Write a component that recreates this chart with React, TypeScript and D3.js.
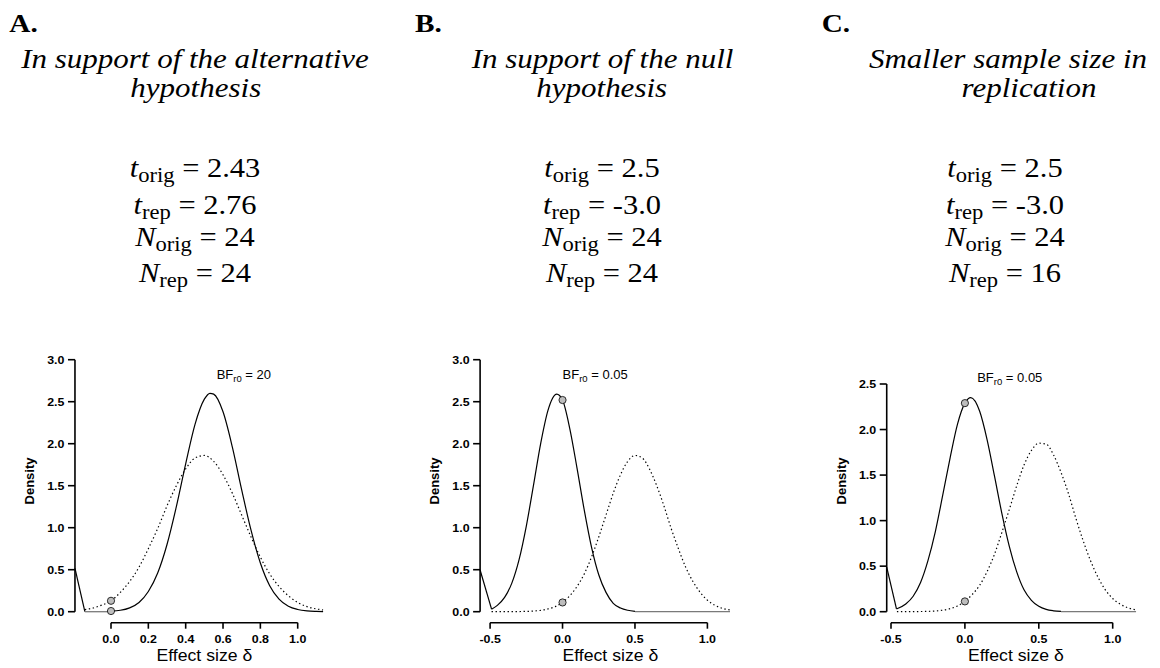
import React from "react";
import * as d3 from "d3";

// ---------- Panel A: in support of the alternative hypothesis ----------
const titleA = ["In support of the alternative", "hypothesis"];
const statValuesA = ["2.43", "2.76", "24", "24"];
const edgeDeltaA = [-0.193, -0.14];
const edgeDensityA = [0.516, 0];
const flatDeltaA = [-0.14, 0];
const repDeltaA = [0, 0.05, 0.1, 0.15, 0.2, 0.25, 0.3, 0.35, 0.4, 0.45, 0.5, 0.53, 0.55, 0.6, 0.65, 0.7, 0.75, 0.8, 0.85, 0.9, 0.95, 1.0, 1.05, 1.1, 1.136];
const repDensityA = [0.008, 0.017, 0.046, 0.11, 0.24, 0.46, 0.8, 1.25, 1.76, 2.23, 2.53, 2.6, 2.59, 2.38, 1.96, 1.45, 0.97, 0.58, 0.31, 0.15, 0.065, 0.026, 0.009, 0.003, 0.001];
const origDeltaA = [-0.14, -0.1, -0.05, 0, 0.05, 0.1, 0.15, 0.2, 0.25, 0.3, 0.35, 0.4, 0.45, 0.5, 0.55, 0.6, 0.65, 0.7, 0.75, 0.8, 0.85, 0.9, 0.95, 1.0, 1.05, 1.1, 1.136];
const origDensityA = [0.025, 0.042, 0.078, 0.13, 0.23, 0.36, 0.53, 0.75, 0.99, 1.26, 1.5, 1.7, 1.83, 1.86, 1.79, 1.63, 1.41, 1.15, 0.89, 0.65, 0.45, 0.3, 0.19, 0.11, 0.06, 0.033, 0.02];
const nullDensityA = [0.13, 0.008]; // original, replication posterior at δ = 0
const bfA = "20";
const xTicksA = [0, 0.2, 0.4, 0.6, 0.8, 1.0];
const yTicksA = [0, 0.5, 1, 1.5, 2, 2.5, 3];

// ---------- Panel B: in support of the null hypothesis ----------
const titleB = ["In support of the null", "hypothesis"];
const statValuesB = ["2.5", "-3.0", "24", "24"];
const edgeDeltaB = [-0.569, -0.49];
const edgeDensityB = [0.496, 0.03];
const flatDeltaB = [0.5, 1.156];
const repDeltaB = [-0.49, -0.45, -0.4, -0.35, -0.3, -0.25, -0.2, -0.15, -0.1, -0.04, 0, 0.05, 0.1, 0.15, 0.2, 0.25, 0.3, 0.35, 0.4, 0.45, 0.5];
const repDensityB = [0.03, 0.075, 0.17, 0.34, 0.62, 1.02, 1.51, 2.01, 2.4, 2.59, 2.52, 2.18, 1.71, 1.21, 0.77, 0.44, 0.23, 0.1, 0.044, 0.017, 0.004];
const origDeltaB = [-0.49, -0.4, -0.3, -0.2, -0.1, -0.05, 0, 0.05, 0.1, 0.15, 0.2, 0.25, 0.3, 0.35, 0.4, 0.45, 0.5, 0.55, 0.6, 0.65, 0.7, 0.75, 0.8, 0.85, 0.9, 0.95, 1.0, 1.05, 1.1, 1.156];
const origDensityB = [0, 0.001, 0.002, 0.008, 0.033, 0.061, 0.11, 0.19, 0.3, 0.45, 0.65, 0.89, 1.15, 1.41, 1.63, 1.79, 1.86, 1.83, 1.7, 1.5, 1.26, 0.99, 0.75, 0.53, 0.36, 0.23, 0.137, 0.078, 0.042, 0.02];
const nullDensityB = [0.11, 2.52];
const bfB = "0.05";
const xTicksB = [-0.5, 0, 0.5, 1.0];
const yTicksB = [0, 0.5, 1, 1.5, 2, 2.5, 3];

// ---------- Panel C: smaller sample size in replication ----------
const titleC = ["Smaller sample size in", "replication"];
const statValuesC = ["2.5", "-3.0", "24", "16"];
const edgeDeltaC = [-0.529, -0.463];
const edgeDensityC = [0.49, 0.03];
const flatDeltaC = [0.65, 1.158];
const repDeltaC = [-0.463, -0.4, -0.35, -0.3, -0.25, -0.2, -0.15, -0.1, -0.05, 0, 0.04, 0.1, 0.15, 0.2, 0.25, 0.3, 0.35, 0.4, 0.45, 0.5, 0.55, 0.6, 0.65];
const repDensityC = [0.03, 0.085, 0.17, 0.32, 0.56, 0.88, 1.28, 1.69, 2.06, 2.29, 2.35, 2.2, 1.89, 1.49, 1.08, 0.72, 0.44, 0.24, 0.125, 0.059, 0.025, 0.01, 0.003];
const origDeltaC = [-0.46, -0.4, -0.3, -0.2, -0.1, -0.05, 0, 0.05, 0.1, 0.15, 0.2, 0.25, 0.3, 0.35, 0.4, 0.45, 0.5, 0.55, 0.6, 0.65, 0.7, 0.75, 0.8, 0.85, 0.9, 0.95, 1.0, 1.05, 1.1, 1.158];
const origDensityC = [0, 0.001, 0.002, 0.008, 0.034, 0.063, 0.113, 0.19, 0.29, 0.44, 0.63, 0.87, 1.12, 1.38, 1.61, 1.77, 1.85, 1.84, 1.72, 1.53, 1.3, 1.03, 0.78, 0.56, 0.38, 0.24, 0.145, 0.083, 0.045, 0.02];
const nullDensityC = [0.113, 2.29];
const bfC = "0.05";
const xTicksC = [-0.5, 0, 0.5, 1.0];
const yTicksC = [0, 0.5, 1, 1.5, 2, 2.5];

const statSymbols = [
  ["t", "orig"],
  ["t", "rep"],
  ["N", "orig"],
  ["N", "rep"],
];

type Pt = [number, number];
const zip = (xs: number[], ys: number[]): Pt[] => xs.map((v, i) => [v, ys[i]] as Pt);

const SERIF = "'Liberation Serif', 'Times New Roman', Times, serif";
const SANS = "'Liberation Sans', Arial, Helvetica, sans-serif";

const fmt = d3.formatLocale({
  decimal: ".",
  thousands: ",",
  grouping: [3],
  currency: ["", ""],
  minus: "-",
}).format(".1f");

const panels = [
  {
    letter: "A.", letterX: 9.3,
    title: titleA, titleX: [195, 195.8],
    stats: statValuesA, statsX: 195,
    xDomain: [0, 1], xRange: [111, 297.7],
    yDomain: [0, 3], yRange: [611.7, 359.7],
    xTicks: xTicksA, yTicks: yTicksA,
    edge: zip(edgeDeltaA, edgeDensityA),
    flat: flatDeltaA,
    rep: zip(repDeltaA, repDensityA),
    orig: zip(origDeltaA, origDensityA),
    nullDensity: nullDensityA,
    bf: bfA, bfAt: [0.566, 2.77],
    xLabelAt: 0.5,
  },
  {
    letter: "B.", letterX: 415,
    title: titleB, titleX: [602.5, 601.7],
    stats: statValuesB, statsX: 602,
    xDomain: [-0.5, 1], xRange: [490.1, 707.4],
    yDomain: [0, 3], yRange: [611.7, 359.7],
    xTicks: xTicksB, yTicks: yTicksB,
    edge: zip(edgeDeltaB, edgeDensityB),
    flat: flatDeltaB,
    rep: zip(repDeltaB, repDensityB),
    orig: zip(origDeltaB, origDensityB),
    nullDensity: nullDensityB,
    bf: bfB, bfAt: [0.0, 2.77],
    xLabelAt: 0.33,
  },
  {
    letter: "C.", letterX: 821.7,
    title: titleC, titleX: [1008, 1029],
    stats: statValuesC, statsX: 1005,
    xDomain: [-0.5, 1], xRange: [891, 1112.7],
    yDomain: [0, 2.5], yRange: [611.7, 384],
    xTicks: xTicksC, yTicks: yTicksC,
    edge: zip(edgeDeltaC, edgeDensityC),
    flat: flatDeltaC,
    rep: zip(repDeltaC, repDensityC),
    orig: zip(origDeltaC, origDensityC),
    nullDensity: nullDensityC,
    bf: bfC, bfAt: [0.083, 2.525],
    xLabelAt: 0.345,
  },
];

const statBaselines = [177, 213.5, 245.5, 281.5];

function Header({ p }: { p: (typeof panels)[number] }) {
  return (
    <g>
      <text
        transform={`translate(${p.letterX},31.7) scale(1.17,1)`}
        style={{ fontFamily: SERIF, fontWeight: "bold", fontSize: 25 }}
      >
        {p.letter}
      </text>
      {p.title.map((line, i) => (
        <text
          key={i}
          transform={`translate(${p.titleX[i]},${i === 0 ? 68.3 : 96.7}) scale(1.17,1)`}
          textAnchor="middle"
          style={{ fontFamily: SERIF, fontStyle: "italic", fontSize: 26.5 }}
        >
          {line}
        </text>
      ))}
      {p.stats.map((v, i) => (
        <text
          key={i}
          transform={`translate(${p.statsX},${statBaselines[i]}) scale(1.13,1)`}
          textAnchor="middle"
          style={{ fontFamily: SERIF, fontSize: 27, whiteSpace: "pre" }}
        >
          <tspan style={{ fontStyle: "italic" }}>{statSymbols[i][0]}</tspan>
          <tspan style={{ fontSize: 20 }} dy={5}>{statSymbols[i][1]}</tspan>
          <tspan dy={-5}>{` = ${v}`}</tspan>
        </text>
      ))}
    </g>
  );
}

function DensityPanel({ p }: { p: (typeof panels)[number] }) {
  const x = d3.scaleLinear().domain(p.xDomain).range(p.xRange);
  const y = d3.scaleLinear().domain(p.yDomain).range(p.yRange);
  const smooth = d3
    .line<Pt>()
    .x((d) => x(d[0]))
    .y((d) => y(d[1]))
    .curve(d3.curveMonotoneX);
  const straight = d3
    .line<Pt>()
    .x((d) => x(d[0]))
    .y((d) => y(d[1]));

  const axisX = x(p.edge[0][0]);
  const yTop = y(p.yTicks[p.yTicks.length - 1]);
  const y0 = y(0);
  const xAxisY = y0 + 11;
  const xt0 = x(p.xTicks[0]);
  const xt1 = x(p.xTicks[p.xTicks.length - 1]);
  const tickFont = { fontFamily: SANS, fontWeight: "bold" as const, fontSize: 11.5 };

  return (
    <g>
      {/* y axis */}
      <line x1={axisX} x2={axisX} y1={y0} y2={yTop} stroke="#000" strokeWidth={1.6} />
      {p.yTicks.map((t) => (
        <g key={t}>
          <line x1={axisX - 7} x2={axisX} y1={y(t)} y2={y(t)} stroke="#000" strokeWidth={1.6} />
          <text
            transform={`translate(${axisX - 10.5},${y(t)}) scale(1.08,1)`}
            dy="0.36em"
            textAnchor="end"
            style={tickFont}
          >
            {fmt(t)}
          </text>
        </g>
      ))}
      <text
        transform={`translate(${axisX - 41},481) rotate(-90)`}
        textAnchor="middle"
        style={{ fontFamily: SANS, fontWeight: "bold", fontSize: 13 }}
      >
        Density
      </text>

      {/* x axis */}
      <line x1={xt0} x2={xt1} y1={xAxisY} y2={xAxisY} stroke="#000" strokeWidth={1.6} />
      {p.xTicks.map((t) => (
        <g key={t}>
          <line x1={x(t)} x2={x(t)} y1={xAxisY} y2={xAxisY + 6} stroke="#000" strokeWidth={1.6} />
          <text
            transform={`translate(${x(t)},${xAxisY + 20.3}) scale(1.08,1)`}
            textAnchor="middle"
            style={tickFont}
          >
            {fmt(t)}
          </text>
        </g>
      ))}
      <text
        transform={`translate(${x(p.xLabelAt)},661) scale(1.07,1)`}
        textAnchor="middle"
        style={{ fontFamily: SANS, fontSize: 16.5 }}
      >
        Effect size δ
      </text>

      {/* original-study posterior (prior for the replication) */}
      <path
        d={smooth(p.orig) ?? ""}
        fill="none"
        stroke="#000"
        strokeWidth={1.2}
        strokeDasharray="1.4 2.6"
      />
      {/* replication posterior */}
      <path d={straight(p.edge) ?? ""} fill="none" stroke="#000" strokeWidth={1.2} />
      <path
        d={straight([[p.flat[0], 0], [p.flat[1], 0]]) ?? ""}
        fill="none"
        stroke="#7a7a7a"
        strokeWidth={1.3}
      />
      <path d={smooth(p.rep) ?? ""} fill="none" stroke="#000" strokeWidth={1.2} />

      {/* densities at δ = 0 */}
      {p.nullDensity.map((d, i) => (
        <circle
          key={i}
          cx={x(0)}
          cy={y(d)}
          r={3.6}
          fill="#bdbdbd"
          stroke="#000"
          strokeWidth={0.8}
        />
      ))}

      {/* Bayes factor */}
      <text
        x={x(p.bfAt[0])}
        y={y(p.bfAt[1])}
        style={{ fontFamily: SANS, fontSize: 13, whiteSpace: "pre" }}
      >
        <tspan>BF</tspan>
        <tspan style={{ fontSize: 9.5 }} dy={3}>r0</tspan>
        <tspan dy={-3}>{` = ${p.bf}`}</tspan>
      </text>
    </g>
  );
}

export default function App() {
  return (
    <svg
      width={1160}
      height={668}
      viewBox="0 0 1160 668"
      style={{ position: "absolute", left: 0, top: 0, display: "block", background: "#fff" }}
    >
      <rect width={1160} height={668} fill="#fff" />
      {panels.map((p, i) => (
        <g key={i}>
          <Header p={p} />
          <DensityPanel p={p} />
        </g>
      ))}
    </svg>
  );
}
